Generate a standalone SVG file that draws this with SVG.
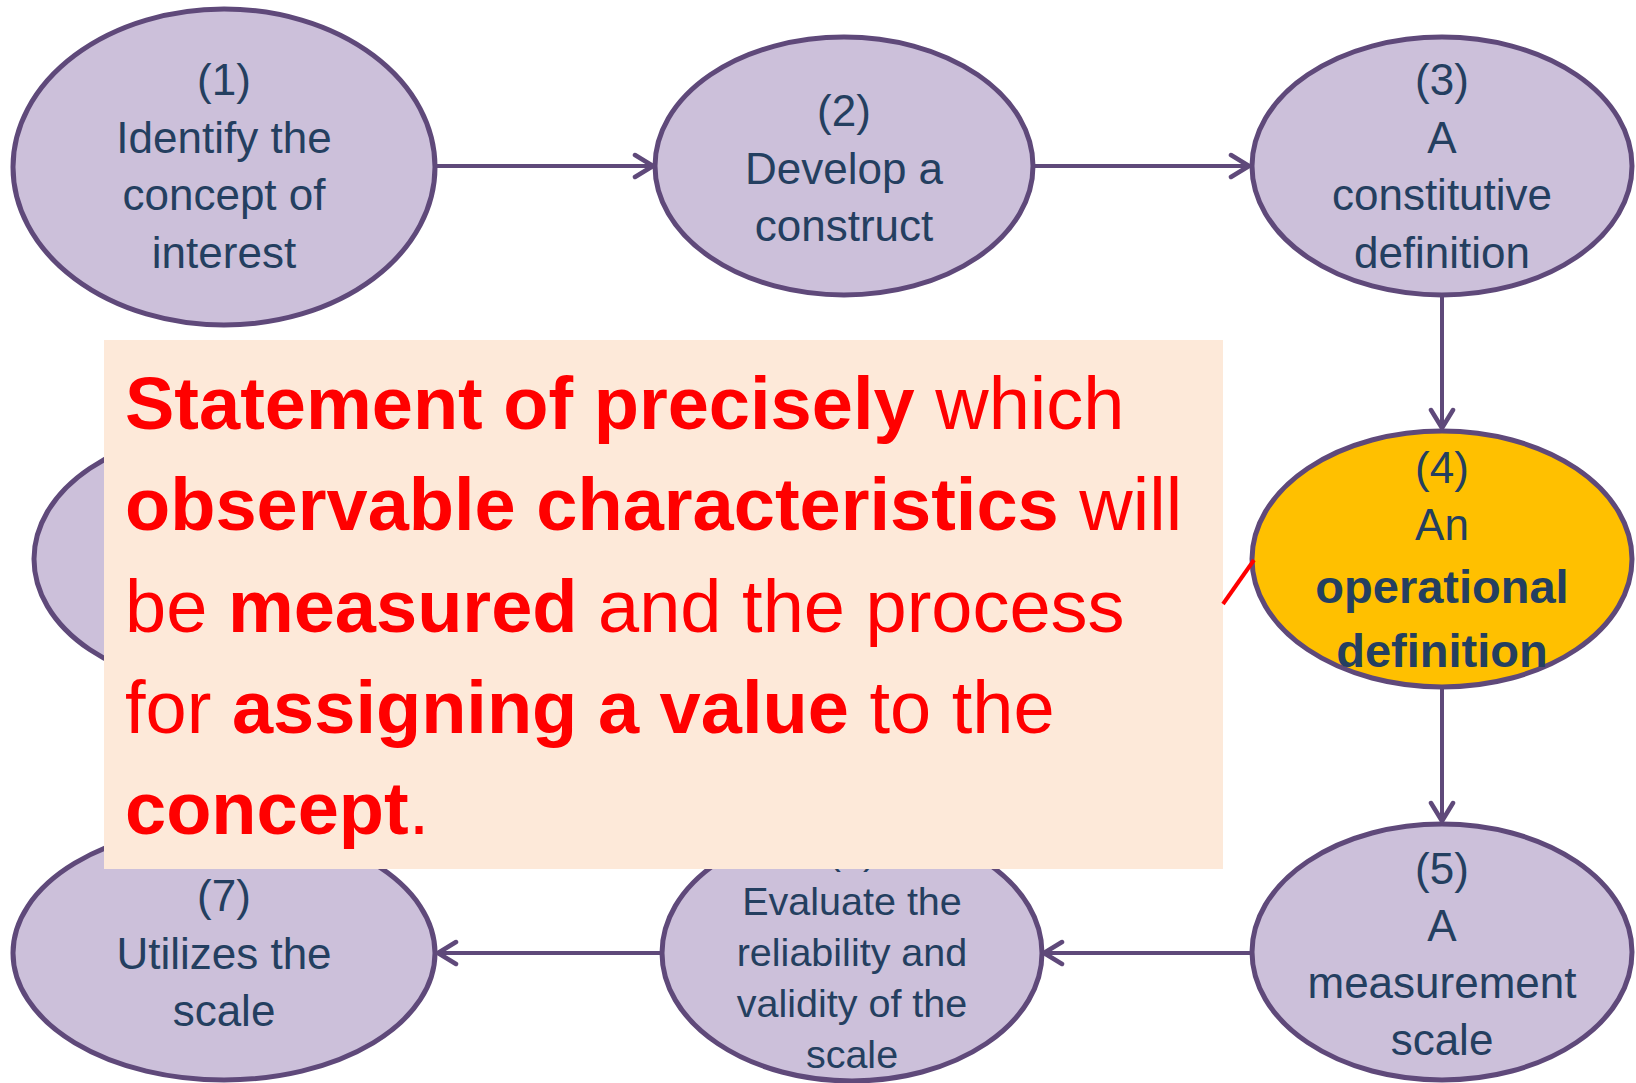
<svg xmlns="http://www.w3.org/2000/svg" width="1636" height="1083" viewBox="0 0 1636 1083">
<style>
.n{fill:#CCC0DA;stroke:#5F497A;stroke-width:5}
.o{fill:#FFC000;stroke:#5F497A;stroke-width:5}
.t{font-family:"Liberation Sans",Arial,sans-serif;font-size:44px;fill:#243F60;text-anchor:middle}
.t6{font-size:39.5px}
.b{font-weight:bold;font-size:47px}
.c{stroke:#5F497A;stroke-width:4;fill:none;marker-end:url(#arr)}
.bx{font-family:"Liberation Sans",Arial,sans-serif;font-size:74px;fill:#FF0000}
.bx .s{font-weight:bold}
</style>
<defs>
<marker id="arr" viewBox="0 0 24 28" refX="22" refY="14" markerWidth="24" markerHeight="28" markerUnits="userSpaceOnUse" orient="auto">
<path d="M3,3 L21,14 L3,25" fill="none" stroke="#5F497A" stroke-width="4.5" stroke-linecap="round" stroke-linejoin="round"/>
</marker>
</defs>
<rect width="1636" height="1083" fill="#FFFFFF"/>
<g id="node1"><ellipse class="n" cx="224" cy="167" rx="211" ry="158"/>
<text class="t"><tspan x="224" y="95">(1)</tspan><tspan x="224" y="153">Identify the</tspan><tspan x="224" y="210">concept of</tspan><tspan x="224" y="268">interest</tspan></text></g>
<g id="node2"><ellipse class="n" cx="844" cy="166" rx="189" ry="129"/>
<text class="t"><tspan x="844" y="126">(2)</tspan><tspan x="844" y="184">Develop a</tspan><tspan x="844" y="241">construct</tspan></text></g>
<g id="node3"><ellipse class="n" cx="1442" cy="166" rx="190" ry="129"/>
<text class="t"><tspan x="1442" y="95">(3)</tspan><tspan x="1442" y="153">A</tspan><tspan x="1442" y="210">constitutive</tspan><tspan x="1442" y="268">definition</tspan></text></g>
<g id="node4"><ellipse class="o" cx="1442" cy="559" rx="190" ry="128"/>
<text class="t"><tspan x="1442" y="483">(4)</tspan><tspan x="1442" y="540">An</tspan><tspan class="b" x="1442" y="603">operational</tspan><tspan class="b" x="1442" y="667">definition</tspan></text></g>
<g id="node5"><ellipse class="n" cx="1442" cy="952" rx="190" ry="128"/>
<text class="t"><tspan x="1442" y="884">(5)</tspan><tspan x="1442" y="941">A</tspan><tspan x="1442" y="998">measurement</tspan><tspan x="1442" y="1055">scale</tspan></text></g>
<g id="node6"><ellipse class="n" cx="852" cy="953" rx="190" ry="128"/>
<text class="t t6"><tspan x="852" y="864">(6)</tspan><tspan x="852" y="915">Evaluate the</tspan><tspan x="852" y="966">reliability and</tspan><tspan x="852" y="1017">validity of the</tspan><tspan x="852" y="1068">scale</tspan></text></g>
<g id="node7"><ellipse class="n" cx="224" cy="953" rx="211" ry="127"/>
<text class="t"><tspan x="224" y="911">(7)</tspan><tspan x="224" y="969">Utilizes the</tspan><tspan x="224" y="1026">scale</tspan></text></g>
<g id="node8"><ellipse class="n" cx="224" cy="559" rx="190" ry="128"/></g>
<g id="connectors">
<line class="c" x1="436" y1="166" x2="654" y2="166"/>
<line class="c" x1="1033" y1="166" x2="1250" y2="166"/>
<line class="c" x1="1442" y1="295" x2="1442" y2="429"/>
<line class="c" x1="1442" y1="687" x2="1442" y2="822"/>
<line class="c" x1="1252" y1="953" x2="1043" y2="953"/>
<line class="c" x1="662" y1="953" x2="437" y2="953"/>
</g>
<g id="callout">
<rect x="104" y="340" width="1119" height="529" fill="#FDE9D9"/>
<line x1="1223" y1="604" x2="1254" y2="560" stroke="#FF0000" stroke-width="4"/>
<text class="bx"><tspan x="125" y="429"><tspan class="s">Statement of precisely</tspan> which</tspan><tspan x="125" y="530"><tspan class="s">observable characteristics</tspan> will</tspan><tspan x="125" y="632">be <tspan class="s">measured</tspan> and the process</tspan><tspan x="125" y="733">for <tspan class="s">assigning a value</tspan> to the</tspan><tspan x="125" y="834"><tspan class="s">concept</tspan>.</tspan></text>
</g>
</svg>
